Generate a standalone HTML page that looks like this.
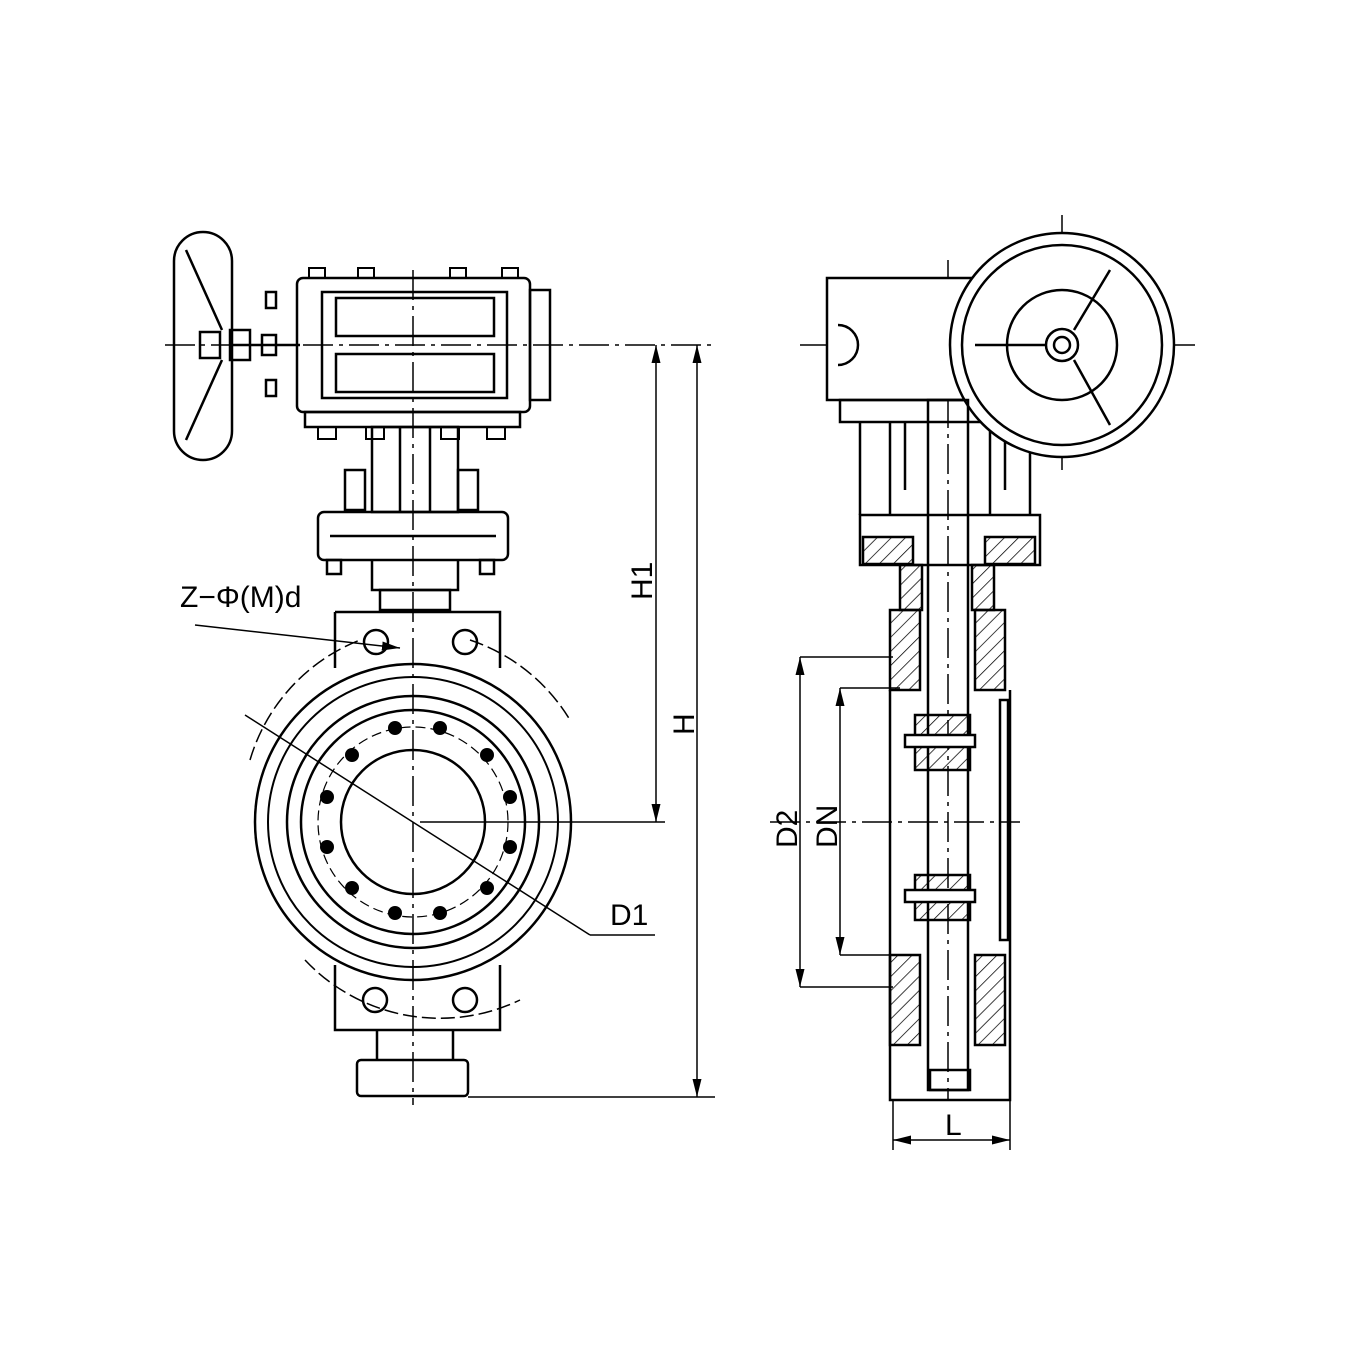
<!DOCTYPE html>
<html><head><meta charset="utf-8"><style>body{margin:0;background:#fff}</style></head><body>
<svg width="1361" height="1361" viewBox="0 0 1361 1361" xmlns="http://www.w3.org/2000/svg" font-family="Liberation Sans, sans-serif">
<defs>
<pattern id="h" width="10" height="10" patternUnits="userSpaceOnUse" patternTransform="rotate(45)"><line x1="0" y1="0" x2="0" y2="10" stroke="#000" stroke-width="1.5"/></pattern>
<marker id="a" markerWidth="12" markerHeight="8" refX="12" refY="4" orient="auto-start-reverse"><path d="M0,1 L12,4 L0,7z" fill="#000"/></marker>
</defs>
<g fill="none" stroke="#000" stroke-width="2.5">
<line x1="165" y1="345" x2="712" y2="345" stroke-width="1.5" stroke-dasharray="30,6,4,6"/>
<line x1="413" y1="270" x2="413" y2="1105" stroke-width="1.5" stroke-dasharray="30,6,4,6"/>
<rect x="174" y="232" width="58" height="228" rx="29"/>
<path d="M186,250 L222,330 M186,440 L222,360 M232,345 L300,345"/>
<rect x="200" y="332" width="20" height="26"/><rect x="230" y="330" width="20" height="30"/><rect x="262" y="335" width="14" height="20"/>
<rect x="266" y="292" width="10" height="16"/><rect x="266" y="380" width="10" height="16"/>
<rect x="297" y="278" width="233" height="134" rx="6"/>
<rect x="322" y="292" width="185" height="106"/>
<rect x="336" y="298" width="158" height="38"/><rect x="336" y="354" width="158" height="38"/>
<rect x="530" y="290" width="20" height="110"/>
<rect x="305" y="412" width="215" height="15"/>
<g stroke-width="2"><rect x="309" y="268" width="16" height="10"/><rect x="358" y="268" width="16" height="10"/><rect x="450" y="268" width="16" height="10"/><rect x="502" y="268" width="16" height="10"/>
<rect x="318" y="427" width="18" height="12"/><rect x="366" y="427" width="18" height="12"/><rect x="441" y="427" width="18" height="12"/><rect x="487" y="427" width="18" height="12"/></g>
<rect x="372" y="427" width="86" height="85"/><line x1="400" y1="427" x2="400" y2="512"/><line x1="430" y1="427" x2="430" y2="512"/>
<rect x="345" y="470" width="20" height="40"/><rect x="458" y="470" width="20" height="40"/>
<rect x="318" y="512" width="190" height="48" rx="6"/>
<line x1="330" y1="536" x2="496" y2="536"/>
<rect x="327" y="560" width="14" height="14"/><rect x="480" y="560" width="14" height="14"/>
<path d="M372,560 V590 H458 V560"/><rect x="380" y="590" width="70" height="20"/>
<path d="M335,612 H500 V668 M335,612 V668"/>
<circle cx="376" cy="642" r="12"/><circle cx="465" cy="642" r="12"/>
<circle cx="413" cy="822" r="158"/><circle cx="413" cy="822" r="145" stroke-width="2"/>
<circle cx="413" cy="822" r="126"/><circle cx="413" cy="822" r="112"/>
<circle cx="413" cy="822" r="72"/>
<circle cx="413" cy="822" r="95" stroke-width="1.2" stroke-dasharray="10,5"/>
<path d="M250,760 A185,185 0 0 1 360,640 M470,640 A185,185 0 0 1 570,720" stroke-width="1.5" stroke-dasharray="14,5"/>
<path d="M305,960 A185,185 0 0 0 520,1000" stroke-width="1.5" stroke-dasharray="14,5"/>
<path d="M335,965 V1030 H500 V965"/>
<circle cx="375" cy="1000" r="12"/><circle cx="465" cy="1000" r="12"/>
<path d="M377,1030 V1060 M453,1030 V1060"/><rect x="357" y="1060" width="111" height="36" rx="4"/>
<line x1="468" y1="1097" x2="715" y2="1097" stroke-width="1.5"/>
<line x1="420" y1="822" x2="665" y2="822" stroke-width="1.5"/>
<line x1="656" y1="345" x2="656" y2="822" stroke-width="1.5" marker-start="url(#a)" marker-end="url(#a)"/>
<line x1="697" y1="345" x2="697" y2="1097" stroke-width="1.5" marker-start="url(#a)" marker-end="url(#a)"/>
<line x1="245" y1="715" x2="590" y2="935" stroke-width="1.5"/><line x1="590" y1="935" x2="655" y2="935" stroke-width="1.5"/>
<line x1="195" y1="625" x2="400" y2="648" stroke-width="1.5" marker-end="url(#a)"/>
<line x1="800" y1="345" x2="1195" y2="345" stroke-width="1.5" stroke-dasharray="30,6,4,6"/>
<line x1="1062" y1="215" x2="1062" y2="470" stroke-width="1.5" stroke-dasharray="30,6,4,6"/>
<line x1="948" y1="260" x2="948" y2="1100" stroke-width="1.5" stroke-dasharray="30,6,4,6"/>
<line x1="770" y1="822" x2="1020" y2="822" stroke-width="1.5" stroke-dasharray="30,6,4,6"/>
<path d="M827,278 H1065 V400 H827z" fill="#fff"/>
<path d="M838,325 A20,20 0 0 1 838,365"/>
<rect x="840" y="400" width="220" height="22"/>
<path d="M860,422 V515 M890,422 V515 M905,422 V490 M990,422 V515 M1005,422 V490 M1030,422 V515"/>
<circle cx="1062" cy="345" r="112" fill="#fff"/><circle cx="1062" cy="345" r="100"/><circle cx="1062" cy="345" r="55"/>
<circle cx="1062" cy="345" r="16"/><circle cx="1062" cy="345" r="8"/>
<path d="M975,345 H1046 M1074,330 L1110,270 M1074,360 L1110,425"/>
<rect x="860" y="515" width="180" height="50"/>
<rect x="863" y="537" width="50" height="27" fill="url(#h)"/><rect x="985" y="537" width="50" height="27" fill="url(#h)"/>
<rect x="900" y="565" width="22" height="45" fill="url(#h)"/><rect x="972" y="565" width="22" height="45" fill="url(#h)"/>
<rect x="928" y="400" width="40" height="690"/>
<rect x="890" y="610" width="30" height="80" fill="url(#h)"/><rect x="975" y="610" width="30" height="80" fill="url(#h)"/>
<rect x="890" y="955" width="30" height="90" fill="url(#h)"/><rect x="975" y="955" width="30" height="90" fill="url(#h)"/>
<path d="M890,690 V1100 H1010 V690"/>
<rect x="1000" y="700" width="8" height="240"/>
<rect x="915" y="715" width="55" height="55" fill="url(#h)"/><rect x="905" y="735" width="70" height="12" fill="#fff"/>
<rect x="915" y="875" width="55" height="45" fill="url(#h)"/><rect x="905" y="890" width="70" height="12" fill="#fff"/>
<rect x="930" y="1070" width="40" height="20"/>
<line x1="800" y1="657" x2="893" y2="657" stroke-width="1.5"/><line x1="800" y1="987" x2="893" y2="987" stroke-width="1.5"/>
<line x1="840" y1="688" x2="900" y2="688" stroke-width="1.5"/><line x1="840" y1="955" x2="900" y2="955" stroke-width="1.5"/>
<line x1="800" y1="657" x2="800" y2="987" stroke-width="1.5" marker-start="url(#a)" marker-end="url(#a)"/>
<line x1="840" y1="688" x2="840" y2="955" stroke-width="1.5" marker-start="url(#a)" marker-end="url(#a)"/>
<line x1="893" y1="1100" x2="893" y2="1150" stroke-width="1.5"/><line x1="1010" y1="1100" x2="1010" y2="1150" stroke-width="1.5"/>
<line x1="893" y1="1140" x2="1010" y2="1140" stroke-width="1.5" marker-start="url(#a)" marker-end="url(#a)"/>
</g>
<g fill="#000">
<circle cx="395" cy="728" r="7"/><circle cx="440" cy="728" r="7"/><circle cx="487" cy="755" r="7"/><circle cx="510" cy="797" r="7"/><circle cx="510" cy="847" r="7"/><circle cx="487" cy="888" r="7"/><circle cx="440" cy="913" r="7"/><circle cx="395" cy="913" r="7"/><circle cx="352" cy="888" r="7"/><circle cx="327" cy="847" r="7"/><circle cx="327" cy="797" r="7"/><circle cx="352" cy="755" r="7"/>
</g>
<g font-size="30" fill="#000">
<text x="180" y="607">Z−Φ(M)d</text>
<text x="610" y="925">D1</text>
<text x="945" y="1135">L</text>
<text transform="translate(652,600) rotate(-90)">H1</text>
<text transform="translate(694,735) rotate(-90)">H</text>
<text transform="translate(797,848) rotate(-90)">D2</text>
<text transform="translate(837,848) rotate(-90)">DN</text>
</g>
</svg>
</body></html>
